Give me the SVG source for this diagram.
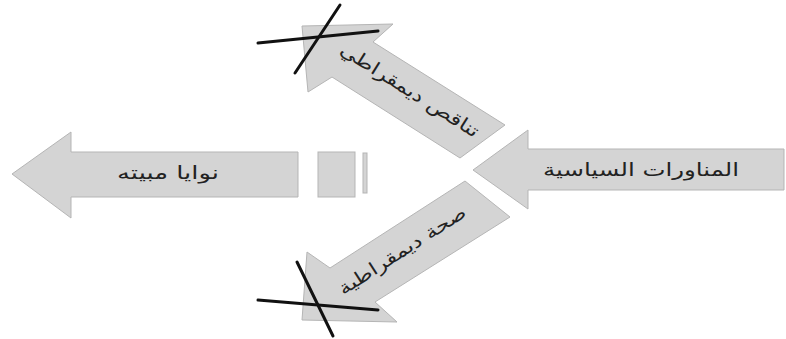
<svg xmlns="http://www.w3.org/2000/svg" width="786" height="339" viewBox="0 0 786 339">
<style>
.shape{fill:#d4d4d4;stroke:#b5b5b5;stroke-width:1}
.lbl{font-family:"DejaVu Sans",sans-serif;font-size:18px;fill:#222;text-anchor:middle;dominant-baseline:central}
.cross{stroke:#111;stroke-width:3;stroke-linecap:round;fill:none}
</style>
<rect width="786" height="339" fill="#fff"/>
<g id="source">
<polygon class="shape" points="473,170 528,130 528,149 784,149 784,190 528,190 528,209"/>
<text class="lbl" x="641" y="169" direction="rtl" textLength="196" lengthAdjust="spacingAndGlyphs">المناورات  السياسية</text>
</g>
<g id="result">
<polygon class="shape" points="12,174 71,132 71,152 298,152 298,197 71,197 71,218"/>
<text class="lbl" x="168" y="172" direction="rtl" textLength="102" lengthAdjust="spacingAndGlyphs">نوايا مبيته</text>
</g>
<g id="block">
<rect class="shape" x="318" y="152" width="37" height="45"/>
<rect class="shape" x="363" y="153" width="4" height="40"/>
</g>
<g id="upper">
<polygon class="shape" points="302,26 393,24 373,42 505,125 460,158 332,77 308,92"/>
<text class="lbl" transform="translate(410,90) rotate(32.2)" direction="rtl" textLength="160" lengthAdjust="spacingAndGlyphs">تناقص ديمقراطي</text>
<line class="cross" x1="258" y1="43" x2="378" y2="31"/>
<line class="cross" x1="340" y1="5" x2="295" y2="73"/>
</g>
<g id="lower">
<polygon class="shape" points="302,320 397,322 375,302 510,217 465,181 330,268 307,252"/>
<text class="lbl" transform="translate(402,250) rotate(-32.8)" direction="rtl" textLength="148" lengthAdjust="spacingAndGlyphs">صحة ديمقراطية</text>
<line class="cross" x1="258" y1="300" x2="378" y2="310"/>
<line class="cross" x1="297" y1="262" x2="333" y2="336"/>
</g>
<g id="connectors"/>
</svg>
